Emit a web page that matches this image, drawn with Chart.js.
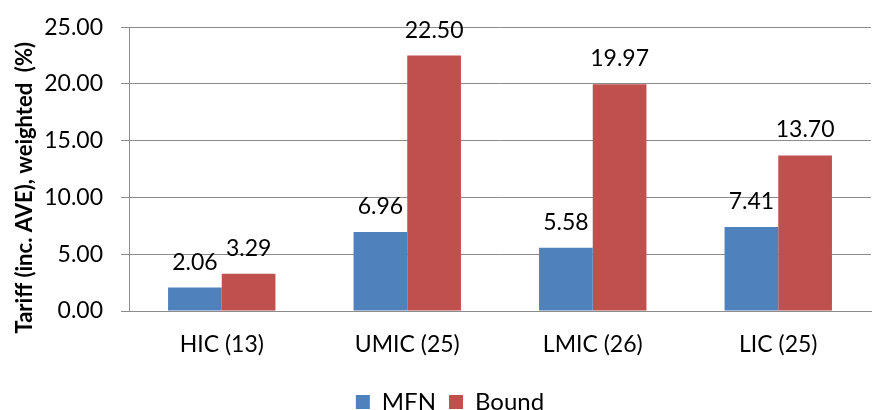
<!DOCTYPE html>
<html>
<head>
<meta charset="utf-8">
<script src="https://cdn.jsdelivr.net/npm/chart.js@4.4.1/dist/chart.umd.min.js"></script>
<style>
  html, body { margin: 0; padding: 0; background: #ffffff; }
  #wrap { width: 872px; height: 410px; }
</style>
</head>
<body>
<div id="wrap"><canvas id="c" width="872" height="410"></canvas></div>
<script>
const categories = ['HIC (13)', 'UMIC (25)', 'LMIC (26)', 'LIC (25)'];
const mfnValues = [2.06, 6.96, 5.58, 7.41];
const boundValues = [3.29, 22.50, 19.97, 13.70];
const yTickValues = [0, 5, 10, 15, 20, 25];

const FONT = 'Lato, "Open Sans", sans-serif';

// Writes each bar's value above its top
const valueLabels = {
  id: 'valueLabels',
  afterDatasetsDraw(chart) {
    const ctx = chart.ctx;
    ctx.save();
    ctx.font = '23px ' + FONT;
    ctx.fillStyle = '#000000';
    ctx.textAlign = 'center';
    ctx.textBaseline = 'alphabetic';
    chart.data.datasets.forEach((ds, i) => {
      chart.getDatasetMeta(i).data.forEach((bar, j) => {
        ctx.fillText(ds.data[j].toFixed(2), bar.x, bar.y - 18);
      });
    });
    ctx.restore();
  }
};

// Moves the legend down to the bottom edge and slightly right of centre
const legendPlace = {
  id: 'legendPlace',
  afterLayout(chart) {
    const lg = chart.legend;
    if (lg) {
      lg.top += 14; lg.bottom += 14;
      lg.left += 14; lg.right += 14;
    }
  }
};

new Chart(document.getElementById('c'), {
  type: 'bar',
  data: {
    labels: categories,
    datasets: [
      { label: 'MFN', data: mfnValues, backgroundColor: '#4F81BD' },
      { label: 'Bound', data: boundValues, backgroundColor: '#C0504D' }
    ]
  },
  options: {
    responsive: false,
    animation: false,
    devicePixelRatio: 1,
    layout: { padding: { top: 20, right: 1, left: 1, bottom: 0 } },
    datasets: { bar: { categoryPercentage: 0.579, barPercentage: 1.0 } },
    scales: {
      x: {
        grid: { display: false, drawTicks: false },
        border: { display: true, color: '#8c8c8c', width: 1 },
        ticks: { color: '#000000', font: { family: FONT, size: 23 }, padding: 20 },
        afterFit(scale) { scale.height = 52; }
      },
      y: {
        min: 0,
        max: 25,
        afterBuildTicks(axis) { axis.ticks = yTickValues.map(v => ({ value: v })); },
        afterFit(scale) { scale.width = 128; },
        grid: { color: '#8c8c8c', lineWidth: 1, tickLength: 8, drawTicks: true },
        border: { display: true, color: '#8c8c8c', width: 1 },
        ticks: {
          color: '#000000',
          font: { family: FONT, size: 23, lineHeight: 0.8 },
          padding: 18,
          callback: v => Number(v).toFixed(2)
        },
        title: {
          display: true,
          text: 'Tariff (inc. AVE), weighted  (%)       ',
          color: '#000000',
          font: { family: FONT, size: 22, weight: 'bold' },
          padding: { top: 11, bottom: 0 }
        }
      }
    },
    plugins: {
      legend: {
        position: 'bottom',
        labels: {
          color: '#000000',
          font: { family: FONT, size: 24 },
          boxWidth: 14,
          boxHeight: 14,
          padding: 13
        }
      },
      tooltip: { enabled: false }
    }
  },
  plugins: [valueLabels, legendPlace]
});
</script>
</body>
</html>
